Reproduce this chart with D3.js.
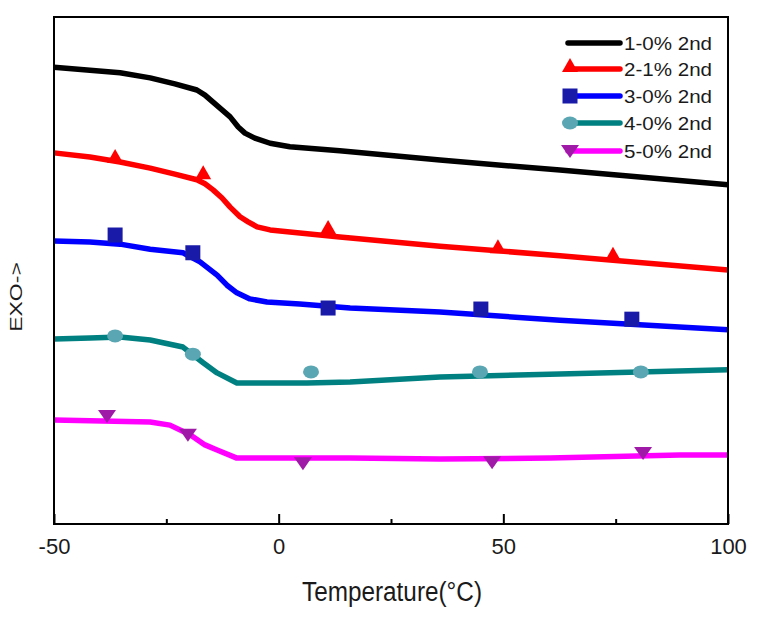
<!DOCTYPE html>
<html>
<head>
<meta charset="utf-8">
<script src="https://cdn.jsdelivr.net/npm/d3@7"></script>
<style>
  body { margin: 0; background: #fff; }
  svg { display: block; }
  text { font-family: Arial, "Liberation Sans", sans-serif; fill: #1a1a1a; }
</style>
</head>
<body>
<svg id="chart" width="781" height="629"></svg>
<script>
// ---- data ----
const seriesNames = ["1-0% 2nd", "2-1% 2nd", "3-0% 2nd", "4-0% 2nd", "5-0% 2nd"];
const lineColors = ["#000000", "#ff0000", "#0000ff", "#008080", "#ff00ff"];
const markerColors = ["#000000", "#ff0000", "#1a1aa8", "#5aa6b2", "#a01aa8"];
const markerShapes = ["none", "triangle", "square", "circle", "triangleDown"];

const xTicksMajor = [-50, 0, 50, 100];
const xTicksMinor = [-25, 25, 75];

// series 1 (black)
const s1Temp = [-50, -42.0, -35.3, -28.6, -23.1, -18.2, -16.4, -14.6, -12.6, -10.8, -9.0, -7.5, -5.3, -1.9, 2.5, 13.6, 35.9, 62.6, 100];
const s1Val  = [90.1, 89.5, 89.0, 88.0, 86.8, 85.6, 84.6, 83.2, 81.7, 80.3, 78.3, 77.1, 76.1, 75.1, 74.4, 73.6, 71.8, 69.8, 66.9];
// series 2 (red)
const s2Temp = [-50, -42.0, -35.3, -28.6, -23.1, -18.2, -16.4, -14.6, -12.6, -10.8, -8.6, -6.8, -4.8, -1.9, 4.7, 13.6, 35.9, 62.6, 100];
const s2Val  = [73.2, 72.4, 71.4, 70.2, 69.0, 67.9, 67.1, 65.9, 64.3, 62.5, 60.6, 59.6, 58.6, 58.0, 57.4, 56.6, 54.8, 52.9, 50.1];
// series 3 (blue)
const s3Temp = [-50, -42.0, -35.3, -28.6, -21.3, -17.5, -13.7, -11.5, -9.3, -6.4, -2.6, 4.7, 15.9, 35.9, 62.6, 100];
const s3Val  = [55.8, 55.6, 55.2, 54.2, 53.5, 51.7, 49.1, 47.1, 45.6, 44.4, 43.8, 43.4, 42.6, 41.8, 40.2, 38.3];
// series 4 (teal)
const s4Temp = [-50, -42.0, -35.3, -28.6, -21.3, -16.8, -13.7, -9.3, 6.3, 15.9, 35.9, 62.6, 100];
const s4Val  = [36.5, 36.7, 36.9, 36.3, 34.9, 31.8, 29.8, 27.8, 27.8, 28.0, 29.0, 29.6, 30.4];
// series 5 (magenta)
const s5Temp = [-50, -28.6, -24.2, -19.7, -16.4, -13.7, -9.3, 15.9, 35.9, 60.4, 89.3, 100];
const s5Val  = [20.5, 20.1, 19.5, 17.6, 15.6, 14.6, 13.0, 13.0, 12.8, 13.0, 13.6, 13.6];

// markers
const m2Temp = [-36.4, -16.8, 11.0, 48.8, 74.4];
const m2Val  = [72.4, 69.2, 58.4, 54.6, 53.1];
const m3Temp = [-36.4, -19.1, 11.0, 45.0, 78.6];
const m3Val  = [57.0, 53.5, 42.6, 42.4, 40.4];
const m4Temp = [-36.4, -19.1, 7.2, 44.8, 80.6];
const m4Val  = [37.1, 33.5, 30.0, 30.0, 30.0];
const m5Temp = [-38.2, -20.2, 5.4, 47.5, 81.1];
const m5Val  = [21.3, 17.6, 12.0, 12.2, 14.0];

const lineTemps = [s1Temp, s2Temp, s3Temp, s4Temp, s5Temp];
const lineVals = [s1Val, s2Val, s3Val, s4Val, s5Val];
const markTemps = [[], m2Temp, m3Temp, m4Temp, m5Temp];
const markVals = [[], m2Val, m3Val, m4Val, m5Val];

// ---- layout ----
const L = 54, R = 728, T = 17, B = 524;
const svg = d3.select("#chart");
const x = d3.scaleLinear().domain([-50, 100]).range([L, R]);
const y = d3.scaleLinear().domain([0, 100]).range([B, T]);

// lines
const line = d3.line().x(d => x(d[0])).y(d => y(d[1]));
lineTemps.forEach((ts, i) => {
  const pts = ts.map((t, j) => [t, lineVals[i][j]]);
  svg.append("path").datum(pts)
    .attr("d", line)
    .attr("fill", "none")
    .attr("stroke", lineColors[i])
    .attr("stroke-width", 5.5)
    .attr("stroke-linejoin", "round");
});

function drawMarker(g, shape, cx, cy, color) {
  if (shape === "triangle") {
    g.append("path").attr("d", `M${cx},${cy - 8}L${cx + 8},${cy + 6}L${cx - 8},${cy + 6}Z`).attr("fill", color);
  } else if (shape === "triangleDown") {
    g.append("path").attr("d", `M${cx - 9},${cy - 6}L${cx + 9},${cy - 6}L${cx},${cy + 7}Z`).attr("fill", color);
  } else if (shape === "square") {
    g.append("rect").attr("x", cx - 7.5).attr("y", cy - 7.5).attr("width", 15).attr("height", 15).attr("fill", color);
  } else if (shape === "circle") {
    g.append("ellipse").attr("cx", cx).attr("cy", cy).attr("rx", 8).attr("ry", 6.5).attr("fill", color);
  }
}

// markers
const mg = svg.append("g");
markTemps.forEach((ts, i) => {
  ts.forEach((t, j) => drawMarker(mg, markerShapes[i], x(t), y(markVals[i][j]), markerColors[i]));
});

// frame
svg.append("rect").attr("x", L).attr("y", T).attr("width", R - L).attr("height", B - T)
  .attr("fill", "none").attr("stroke", "#000").attr("stroke-width", 2);

// x axis
const axMajor = d3.axisBottom(x).tickValues(xTicksMajor).tickSize(-10).tickPadding(14).tickFormat(d => String(d));
const gx = svg.append("g").attr("transform", `translate(0,${B})`).call(axMajor);
gx.select(".domain").remove();
gx.selectAll(".tick line").attr("stroke", "#000").attr("stroke-width", 2);
gx.selectAll(".tick text").attr("font-size", 22).attr("font-family", "Arial, 'Liberation Sans', sans-serif").attr("fill", "#1a1a1a");
const axMinor = d3.axisBottom(x).tickValues(xTicksMinor).tickSize(-5).tickFormat("");
const gxm = svg.append("g").attr("transform", `translate(0,${B})`).call(axMinor);
gxm.select(".domain").remove();
gxm.selectAll(".tick line").attr("stroke", "#000").attr("stroke-width", 2);

// axis titles
svg.append("text").attr("x", 392).attr("y", 601).attr("text-anchor", "middle")
  .attr("font-size", 27).attr("textLength", 180).attr("lengthAdjust", "spacingAndGlyphs")
  .text("Temperature(°C)");

svg.append("text").attr("transform", "translate(22,297) scale(0.72,1) rotate(-90)")
  .attr("text-anchor", "middle").attr("font-size", 23).text("EXO->");

// legend
const legY = [43, 69, 96, 123, 151];
seriesNames.forEach((n, i) => {
  svg.append("line").attr("x1", 568).attr("x2", 620).attr("y1", legY[i]).attr("y2", legY[i])
    .attr("stroke", lineColors[i]).attr("stroke-width", 5.5).attr("stroke-linecap", "round");
  drawMarker(svg, markerShapes[i], 570, legY[i] - (markerShapes[i] === "triangle" ? 3 : 0), markerColors[i]);
  svg.append("text").attr("x", 624).attr("y", legY[i] + 7).attr("font-size", 18.5)
    .attr("textLength", 88).attr("lengthAdjust", "spacingAndGlyphs").attr("fill", "#222").text(n);
});
</script>
</body>
</html>
